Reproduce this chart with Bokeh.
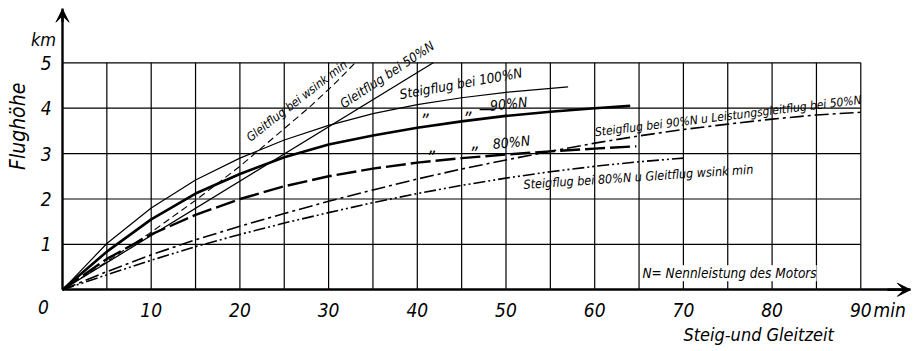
from bokeh.plotting import figure
from bokeh.models import Range1d, FixedTicker, Label, Arrow, VeeHead, LinearAxis
from bokeh.embed import file_html
from bokeh.resources import INLINE

FONT = "DejaVu Sans Condensed, Roboto, sans-serif"

# ---- data (time in min, height in km) ----
t_wsink = [0, 5, 10, 15, 20, 25, 28, 31, 33]
h_wsink = [0, 0.62, 1.27, 1.97, 2.72, 3.55, 4.05, 4.6, 5.0]

t_glide50 = [0, 41.8]
h_glide50 = [0, 5.0]

t_100 = [0, 5, 10, 15, 20, 25, 30, 35, 40, 45, 50, 57]
h_100 = [0, 1.02, 1.8, 2.42, 2.9, 3.3, 3.62, 3.88, 4.08, 4.23, 4.35, 4.47]

t_90 = [0, 5, 10, 15, 20, 25, 30, 35, 40, 45, 50, 55, 60, 64]
h_90 = [0, 0.84, 1.55, 2.12, 2.55, 2.92, 3.2, 3.4, 3.57, 3.71, 3.83, 3.92, 4.0, 4.05]

t_80 = [0, 5, 10, 15, 20, 25, 30, 35, 40, 45, 50, 55, 60, 64.7]
h_80 = [0, 0.68, 1.22, 1.65, 2.0, 2.28, 2.5, 2.67, 2.8, 2.9, 2.98, 3.05, 3.11, 3.16]

t_90_lg = [0, 5, 10, 15, 20, 25, 30, 35, 40, 45, 50, 55, 60, 65, 70, 75, 80, 85, 90]
h_90_lg = [0, 0.4, 0.77, 1.1, 1.4, 1.68, 1.95, 2.2, 2.44, 2.66, 2.86, 3.05, 3.23, 3.39, 3.53, 3.65, 3.76, 3.85, 3.91]

t_80_ws = [0, 5, 10, 15, 20, 25, 30, 35, 40, 45, 50, 55, 60, 65, 70]
h_80_ws = [0, 0.33, 0.65, 0.95, 1.22, 1.47, 1.7, 1.92, 2.12, 2.3, 2.46, 2.6, 2.72, 2.82, 2.9]

x_ticks = [10, 20, 30, 40, 50, 60, 70, 80, 90]
y_ticks = [1, 2, 3, 4, 5]
grid_x = [5, 10, 15, 20, 25, 30, 35, 40, 45, 50, 55, 60, 65, 70, 75, 80, 85, 90]
grid_y = [1, 2, 3, 4, 5]
x_max = 90
y_max = 5

# ---- figure: frame fills the whole canvas ----
W, H = 912, 348
p = figure(width=W, height=H, x_range=Range1d(-6.99, 95.83), y_range=Range1d(-1.293, 6.372),
           output_backend="svg", toolbar_location=None,
           x_axis_type=None, y_axis_type=None, min_border=0)
p.outline_line_color = None
p.xgrid.visible = False
p.ygrid.visible = False
p.background_fill_color = "white"
p.border_fill_color = "white"

xaxis = LinearAxis(fixed_location=0, bounds=(0, 95.6), ticker=FixedTicker(ticks=x_ticks))
yaxis = LinearAxis(fixed_location=0, bounds=(0, 6.2), ticker=FixedTicker(ticks=y_ticks))
p.add_layout(xaxis, "below")
p.add_layout(yaxis, "left")
for ax in (xaxis, yaxis):
    ax.axis_line_width = 2.4
    ax.axis_line_color = "black"
    ax.major_tick_line_color = None
    ax.minor_tick_line_color = None
    ax.major_tick_out = 0
    ax.major_tick_in = 0
    ax.major_label_text_font = FONT
    ax.major_label_text_font_style = "italic"
    ax.major_label_text_font_size = "19px"
    ax.major_label_text_color = "black"
xaxis.major_label_standoff = 13
yaxis.major_label_standoff = 11

# grid (bounded to the chart box)
p.segment(x0=grid_x, y0=[0] * len(grid_x), x1=grid_x, y1=[y_max] * len(grid_x),
          line_color="black", line_width=1.2)
p.segment(x0=[0] * len(grid_y), y0=grid_y, x1=[x_max] * len(grid_y), y1=grid_y,
          line_color="black", line_width=1.2)

# arrows on axes
p.add_layout(Arrow(end=VeeHead(size=13, line_color="black", fill_color="black", line_width=1),
                   x_start=0, y_start=5.9, x_end=0, y_end=6.18, line_width=2.4, line_color="black"))
p.add_layout(Arrow(end=VeeHead(size=13, line_color="black", fill_color="black", line_width=1),
                   x_start=93, y_start=0, x_end=95.6, y_end=0, line_width=2.4, line_color="black"))

# curves
p.line(t_wsink, h_wsink, line_color="black", line_width=1.1, line_dash="7 4")
p.line(t_glide50, h_glide50, line_color="black", line_width=1.3)
p.line(t_100, h_100, line_color="black", line_width=1.2)
p.line(t_90, h_90, line_color="black", line_width=2.6)
p.line(t_80, h_80, line_color="black", line_width=2.4, line_dash="20 5")
p.line(t_90_lg, h_90_lg, line_color="black", line_width=1.6, line_dash="14 4 3 4")
p.line(t_80_ws, h_80_ws, line_color="black", line_width=1.6, line_dash="12 3 2 3 2 3")


def txt(x, y, s, size, angle=0.0, align="left", bg=None):
    lab = Label(x=x, y=y, text=s, angle=angle, text_font=FONT, text_font_style="italic",
                text_font_size=size, text_align=align, text_baseline="middle",
                text_color="black")
    if bg:
        lab.background_fill_color = bg
    p.add_layout(lab)


# curve labels
txt(20.91, 3.324, "Gleitflug bei wsink min", "12px", angle=0.66)
txt(31.43, 4.068, "Gleitflug bei 50%N", "13px", angle=0.586)
txt(38.02, 4.308, "Steigflug bei 100%N", "13.5px", angle=0.178)
txt(40.6, 3.976, "\u201e", "18px")
txt(45.4, 4.02, "\u201e \u2014", "18px")
txt(48.2, 4.055, "90%N", "14px", angle=0.1)
txt(41.3, 3.16, "\u201e", "18px")
txt(46.1, 3.25, "\u201e", "18px")
txt(48.52, 3.21, "80%N", "14px", angle=0.1)
txt(60.03, 3.467, "Steigflug bei 90%N u Leistungsgleitflug bei 50%N", "12px", angle=0.122)
txt(51.97, 2.319, "Steigflug bei 80%N u Gleitflug wsink min", "12.5px", angle=0.067)
txt(65.39, 0.363, "N= Nennleistung des Motors", "13.5px", bg="white")

# axis texts
txt(-2.14, 5.51, "km", "18px", align="center")
txt(-5.0, 3.6, "Flugh\u00f6he", "21px", angle=1.5708, align="center")
txt(-2.14, -0.38, "0", "19px", align="center")
txt(91.43, -0.436, "min", "19px")
txt(70.0, -0.99, "Steig-und Gleitzeit", "18px")

open("out.html", "w").write(file_html(p, INLINE))
